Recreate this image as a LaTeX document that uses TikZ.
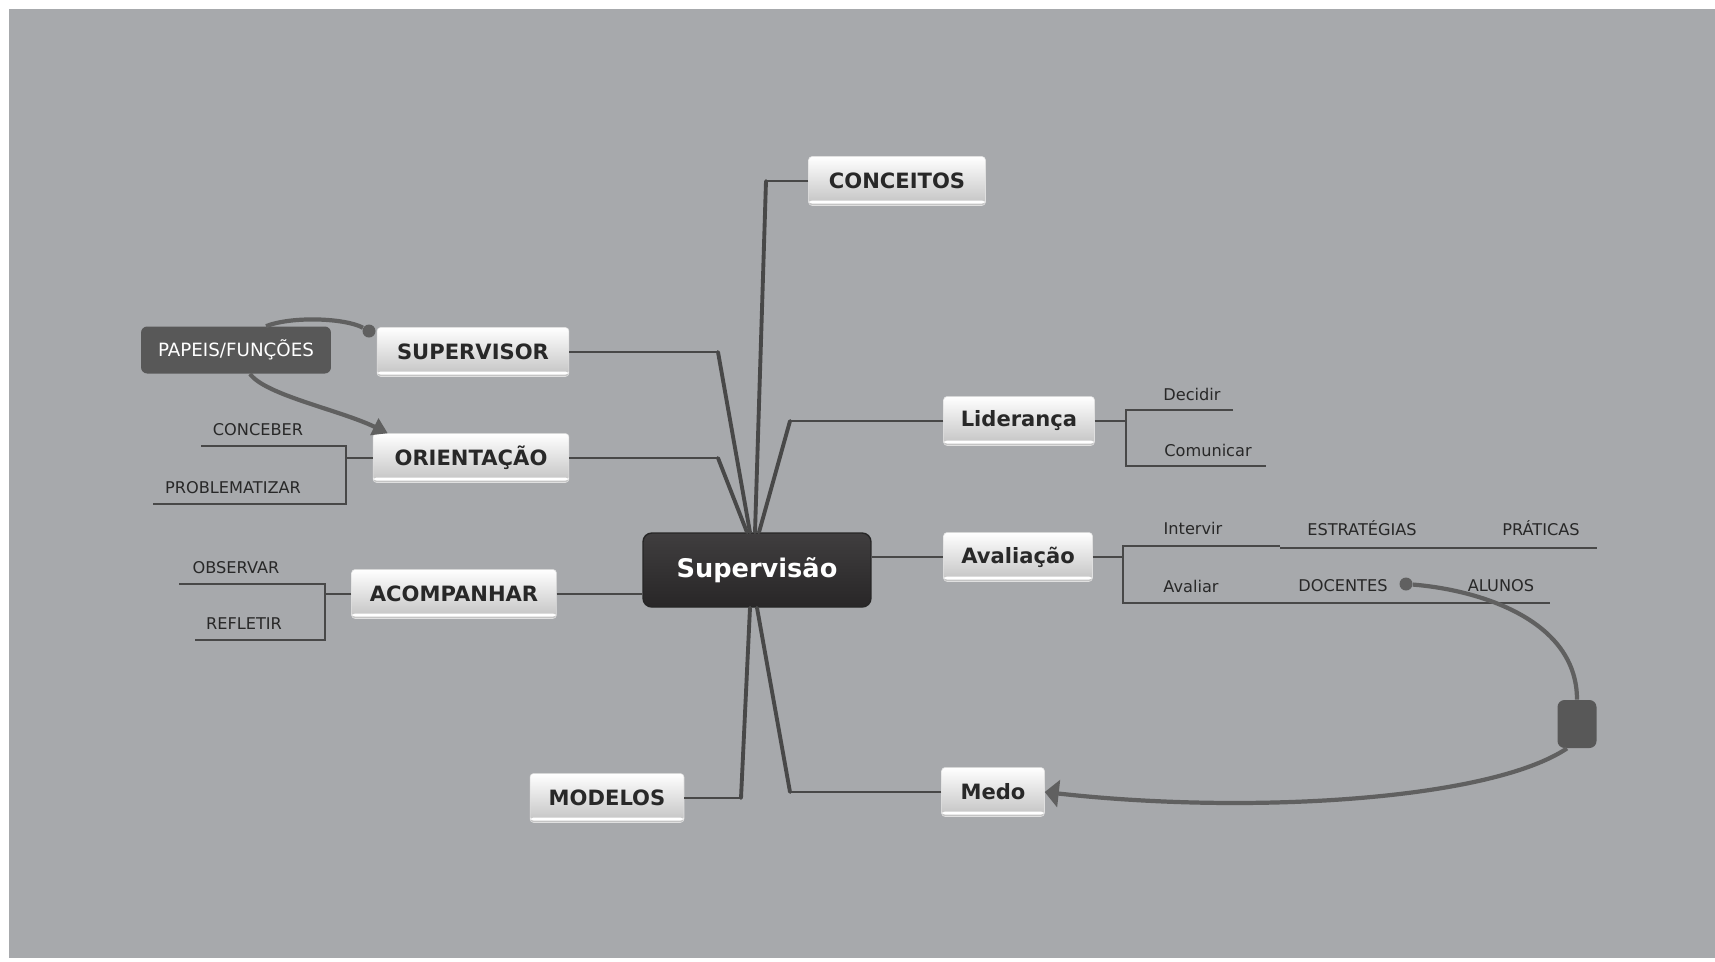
\documentclass[tikz,border=0pt]{standalone}
\usepackage{fontspec}
\setmainfont{DejaVu Sans}
\usetikzlibrary{arrows.meta}

\definecolor{bggray}{RGB}{167,169,172}
\definecolor{linegray}{RGB}{72,72,72}
\definecolor{linkgray}{RGB}{96,96,96}
\definecolor{inkgray}{RGB}{40,40,40}
\definecolor{hubtop}{RGB}{64,62,63}
\definecolor{hubbot}{RGB}{40,38,39}
\definecolor{roleshade}{RGB}{88,88,88}

\tikzset{
  topicbox/.style={rounded corners=2pt, top color=white, bottom color=black!24,
    draw=black!12, line width=0.3pt, inner sep=0pt, minimum height=0.98cm,
    text=inkgray, font=\bfseries\fontsize{12}{14}\selectfont,
    path picture={\fill[white] ([yshift=1.1pt]path picture bounding box.south west)
      rectangle ([yshift=2.8pt]path picture bounding box.south east);}},
  hubbox/.style={rounded corners=5pt, top color=hubtop, bottom color=hubbot,
    draw=black!85, line width=0.8pt, inner sep=0pt, minimum width=4.56cm,
    minimum height=1.48cm, text=white, font=\bfseries\fontsize{14.6}{17}\selectfont},
  rolebox/.style={rounded corners=3.5pt, fill=roleshade, inner sep=0pt,
    minimum width=3.8cm, minimum height=0.94cm, text=white,
    font=\fontsize{10.4}{12}\selectfont},
  knotbox/.style={rounded corners=4pt, fill=roleshade, inner sep=0pt,
    minimum width=0.78cm, minimum height=0.96cm},
  beadnode/.style={circle, fill=linkgray, inner sep=0pt, minimum size=0.26cm},
  leaflabel/.style={inner sep=0pt, text=inkgray, font=\fontsize{9.2}{11}\selectfont},
  twigline/.style={draw=linegray, line width=0.8pt},
  armline/.style={draw=linegray, line width=0.9pt},
  stemline/.style={draw=linegray, line width=2.2pt, line cap=round},
  linkline/.style={draw=linkgray, line width=2.4pt}
}

\begin{document}
\begin{tikzpicture}[x=0.02cm, y=-0.02cm]
  % Canvas
  \fill[white] (0,0) rectangle (1715,961);
  \fill[bggray] (9,9) rectangle (1715,958);
  \useasboundingbox (0,0) rectangle (1715,961);

  % Central topic and main topics
  \node[hubbox] (sv) at (757,570) {Supervisão};
  \node[topicbox, minimum width=3.54cm] (con) at (897,181) {CONCEITOS};
  \node[topicbox, minimum width=3.84cm] (sup) at (473,352) {SUPERVISOR};
  \node[topicbox, minimum width=3.92cm] (ori) at (471,458) {ORIENTAÇÃO};
  \node[topicbox, minimum width=4.10cm] (aco) at (454,594) {ACOMPANHAR};
  \node[topicbox, minimum width=3.08cm] (mod) at (607,798) {MODELOS};
  \node[topicbox, minimum width=3.02cm] (lid) at (1019,421) {Liderança};
  \node[topicbox, minimum width=2.98cm] (ava) at (1018,557) {Avaliação};
  \node[topicbox, minimum width=2.06cm] (medo) at (993,792) {Medo};

  % Branches into the central topic
  \coordinate (conE) at (766,181);
  \coordinate (supE) at (718,352);
  \coordinate (oriE) at (718,458);
  \coordinate (lidE) at (790,421);
  \coordinate (modE) at (741,798);
  \coordinate (medoE) at (790,792);
  \draw[armline] (con.west) -- (conE);
  \draw[stemline] (conE) -- ([xshift=-0.04cm]sv.north);
  \draw[armline] (sup.east) -- (supE);
  \draw[stemline] (supE) -- ([xshift=-0.14cm]sv.north);
  \draw[armline] (ori.east) -- (oriE);
  \draw[stemline] (oriE) -- ([xshift=-0.2cm]sv.north);
  \draw[armline] (lid.west) -- (lidE);
  \draw[stemline] (lidE) -- ([xshift=0.04cm]sv.north);
  \draw[armline] (mod.east) -- (modE);
  \draw[stemline] (modE) -- ([xshift=-0.14cm]sv.south);
  \draw[armline] (medo.west) -- (medoE);
  \draw[stemline] (medoE) -- (sv.south);
  \draw[armline] (aco.east) -- (aco.east -| sv.west);
  \draw[armline] (sv.east |- ava.west) -- (ava.west);

  % Subtopics of ORIENTACAO
  \node[leaflabel] (conc) at (258,430) {CONCEBER};
  \node[leaflabel] (prob) at (233,488) {PROBLEMATIZAR};
  \coordinate (oriF) at (346,458);
  \coordinate (concL) at (201,446);
  \coordinate (probL) at (153,504);
  \draw[twigline] (ori.west) -- (oriF);
  \draw[twigline] (concL) -| (oriF) |- (probL);

  % Subtopics of ACOMPANHAR
  \node[leaflabel] (obs) at (236,568) {OBSERVAR};
  \node[leaflabel] (ref) at (244,624) {REFLETIR};
  \coordinate (acoF) at (325,594);
  \coordinate (obsL) at (179,584);
  \coordinate (refL) at (195,640);
  \draw[twigline] (aco.west) -- (acoF);
  \draw[twigline] (obsL) -| (acoF) |- (refL);

  % Subtopics of Lideranca
  \node[leaflabel] (dec) at (1192,394) {Decidir};
  \node[leaflabel] (com) at (1208,450) {Comunicar};
  \coordinate (lidF) at (1126,421);
  \coordinate (decR) at (1233,410);
  \coordinate (comR) at (1266,466);
  \draw[twigline] (lid.east) -- (lidF);
  \draw[twigline] (decR) -| (lidF) |- (comR);

  % Subtopics of Avaliacao
  \node[leaflabel] (int) at (1193,528) {Intervir};
  \node[leaflabel] (est) at (1362,528) {ESTRATÉGIAS};
  \node[leaflabel] (pra) at (1541,528) {PRÁTICAS};
  \node[leaflabel] (aval) at (1191,586) {Avaliar};
  \node[leaflabel] (doc) at (1343,586) {DOCENTES};
  \node[leaflabel] (alu) at (1501,586) {ALUNOS};
  \coordinate (avaF) at (1123,557);
  \coordinate (intR) at (1280,546);
  \coordinate (estL) at (1280,548);
  \coordinate (praR) at (1597,548);
  \coordinate (aluR) at (1550,603);
  \draw[twigline] (ava.east) -- (avaF);
  \draw[twigline] (intR) -| (avaF) |- (aluR);
  \draw[twigline] (estL) -- (praR);

  % Relationships
  \node[rolebox] (pap) at (236,350) {PAPEIS/FUNÇÕES};
  \node[beadnode] (supdot) at (369,331) {};
  \node[beadnode] (docdot) at (1406,584) {};
  \node[knotbox] (sq) at (1577,724) {};
  \draw[linkline] ([xshift=0.6cm]pap.north) .. controls (292,316) and (345,318) .. (supdot);
  \draw[linkline, -{Triangle[length=0.3cm,width=0.36cm]}]
    ([xshift=0.28cm]pap.south) .. controls (265,395) and (340,410) .. ([xshift=0.3cm]ori.north west);
  \draw[linkline] (docdot) .. controls (1480,590) and (1577,620) .. (sq.north);
  \draw[linkline, -{Triangle[length=0.28cm,width=0.54cm]}]
    ([xshift=-0.2cm]sq.south) .. controls (1490,800) and (1250,815) .. (medo.east);
\end{tikzpicture}
\end{document}
